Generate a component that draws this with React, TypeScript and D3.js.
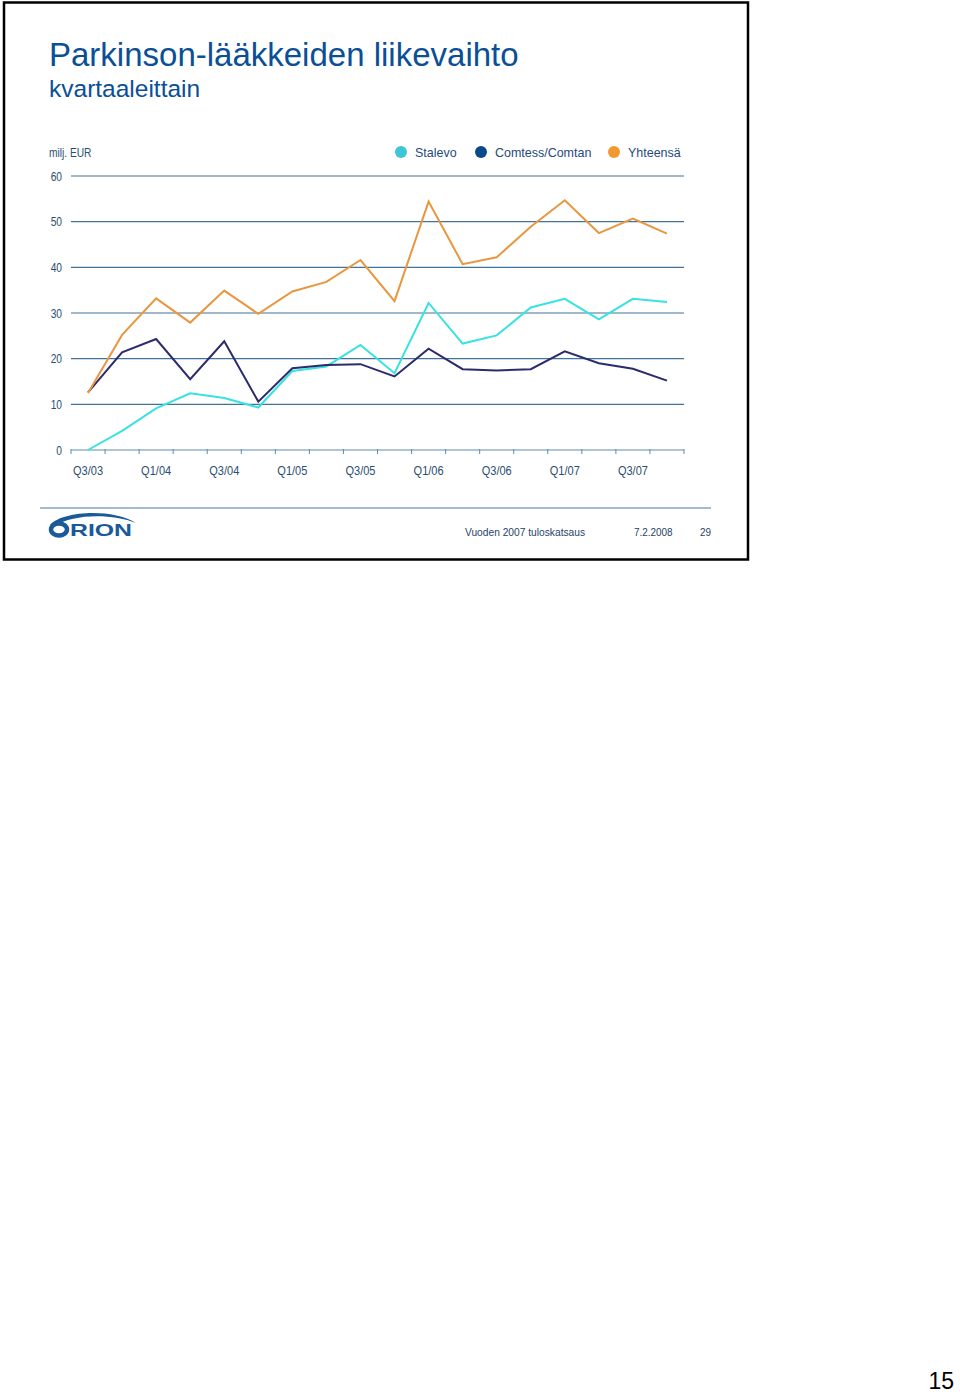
import * as d3 from 'd3';
import React from 'react';

// quarters Q3/03 .. Q4/07
const quarters = [
    'Q3/03', 'Q4/03', 'Q1/04', 'Q2/04', 'Q3/04', 'Q4/04',
    'Q1/05', 'Q2/05', 'Q3/05', 'Q4/05', 'Q1/06', 'Q2/06',
    'Q3/06', 'Q4/06', 'Q1/07', 'Q2/07', 'Q3/07', 'Q4/07'
];

// milj. EUR
const stalevo = [0, 4.2, 9.1, 12.4, 11.4, 9.3, 17.3, 18.3, 23.0, 16.8, 32.2, 23.3, 25.1, 31.2, 33.1, 28.6, 33.1, 32.4];
const comtess = [12.6, 21.4, 24.3, 15.5, 23.8, 10.6, 17.9, 18.6, 18.8, 16.1, 22.2, 17.7, 17.4, 17.7, 21.6, 19.0, 17.8, 15.2];
const yhteensa = [12.5, 25.2, 33.2, 27.9, 34.9, 29.8, 34.7, 36.8, 41.6, 32.6, 54.4, 40.7, 42.2, 48.9, 54.7, 47.5, 50.7, 47.4];

const yTicks = [0, 10, 20, 30, 40, 50, 60];

const series = [
    { name: 'Stalevo', values: stalevo, line: '#38E2E2', dot: '#3CC6D6' },
    { name: 'Comtess/Comtan', values: comtess, line: '#2B2B6E', dot: '#0B4A8A' },
    { name: 'Yhteensä', values: yhteensa, line: '#E8973F', dot: '#F3982E' }
];

const sans = '"Liberation Sans", Arial, sans-serif';

// the slide uses a condensed face; squeeze regular Liberation Sans instead
function Narrow(props: { x: number, y: number, size: number, sx?: number, anchor?: string, fill?: string, children: any }) {
    return (
        <text transform={`translate(${props.x},${props.y}) scale(${props.sx ?? 0.85},1)`}
            textAnchor={props.anchor ?? 'start'} fontFamily={sans} fontSize={props.size} fill={props.fill ?? '#2A4E70'}>
            {props.children}
        </text>
    );
}

export default function App() {
    const x = d3.scaleBand<string>().domain(quarters).range([71, 684]);
    const cx = (q: string) => (x(q) as number) + x.bandwidth() / 2;
    const y = d3.scaleLinear().domain([0, 60]).range([450, 176]);

    const line = d3.line<number>()
        .x((d, i) => cx(quarters[i]))
        .y(d => y(d));

    const boundaries = quarters.map(q => x(q) as number).concat([684]);
    const legendX = [401, 481, 614];

    return (
        <svg width={960} height={1394} style={{ position: 'absolute', left: 0, top: 0 }}>
            {/* slide frame */}
            <rect x={4} y={2.5} width={744} height={557} fill="#fff" stroke="#000" strokeWidth={2.5} />

            <text x={49} y={66} fontFamily={sans} fontSize={33} fill="#0B4F97">Parkinson-lääkkeiden liikevaihto</text>
            <text x={49} y={97} fontFamily={sans} fontSize={24.5} fill="#0B4F97">kvartaaleittain</text>

            <Narrow x={49} y={157} size={12}>milj. EUR</Narrow>

            {/* legend */}
            {series.map((s, i) => (
                <g key={s.name}>
                    <circle cx={legendX[i]} cy={152} r={6} fill={s.dot} />
                    <Narrow x={legendX[i] + 14} y={157} size={13} sx={0.96} fill="#1F4A7C">{s.name}</Narrow>
                </g>
            ))}

            {/* grid */}
            {yTicks.map(t => (
                <g key={t}>
                    {t > 0 && <line x1={71} x2={684} y1={y(t)} y2={y(t)} stroke="#42729A" strokeWidth={1.2} />}
                    <Narrow x={62} y={y(t) + 4.5} size={12} anchor="end">{t}</Narrow>
                </g>
            ))}

            {/* x axis */}
            <line x1={71} x2={684} y1={y(0)} y2={y(0)} stroke="#5E8DB0" strokeWidth={1.2} />
            {boundaries.map((b, i) => (
                <line key={i} x1={b} x2={b} y1={y(0) - 1} y2={y(0) + 4} stroke="#5E8DB0" strokeWidth={1} />
            ))}
            {quarters.map((q, i) => i % 2 === 0 && (
                <Narrow key={q} x={cx(q)} y={475} size={12} sx={0.92} anchor="middle">{q}</Narrow>
            ))}

            {/* lines */}
            {series.map(s => (
                <path key={s.name} d={line(s.values) as string} fill="none" stroke={s.line} strokeWidth={2} />
            ))}

            {/* footer */}
            <line x1={40} x2={711} y1={508} y2={508} stroke="#4A7BA3" strokeWidth={1.2} />
            <g fill="#1A5A9A">
                <path d="M50,525 C62,511 112,508 136,523 C112,513 72,514 55,526 Z" />
                <ellipse cx={59} cy={529.5} rx={8} ry={6} fill="none" stroke="#1A5A9A" strokeWidth={4.5} />
                <text transform="translate(70,536) scale(1.55,1)" fontFamily={sans} fontWeight="bold" fontSize={16}>RION</text>
            </g>
            <Narrow x={465} y={536} size={11} sx={0.93} fill="#1F3F66">Vuoden 2007 tuloskatsaus</Narrow>
            <Narrow x={634} y={536} size={11} sx={0.9} fill="#1F3F66">7.2.2008</Narrow>
            <Narrow x={700} y={536} size={11} sx={0.9} fill="#1F3F66">29</Narrow>

            <text x={954} y={1389} textAnchor="end" fontFamily={sans} fontSize={23} fill="#000">15</text>
        </svg>
    );
}
